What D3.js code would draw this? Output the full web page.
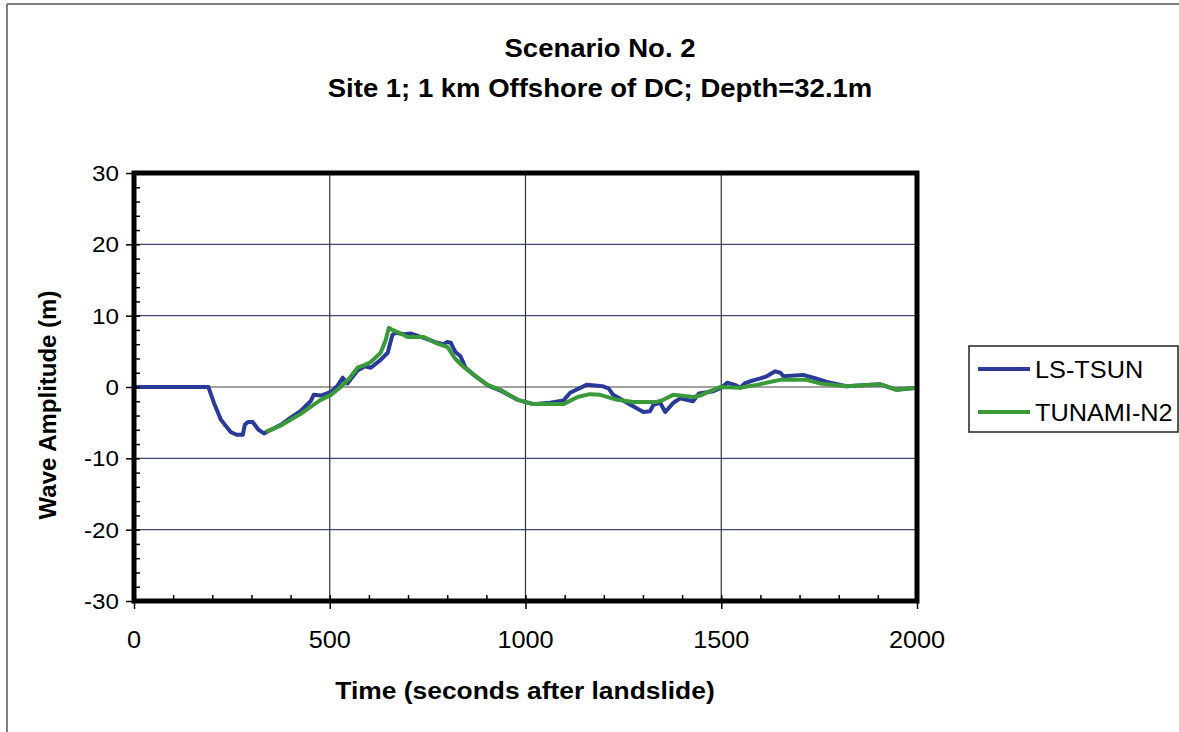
<!DOCTYPE html>
<html>
<head>
<meta charset="utf-8">
<script src="https://cdn.jsdelivr.net/npm/d3@7/dist/d3.min.js"></script>
<style>
  html, body { margin: 0; padding: 0; background: #fff; }
  svg { display: block; font-family: "Liberation Sans", Arial, sans-serif; }
</style>
</head>
<body>
<svg id="chart" width="1179" height="732"></svg>
<script>
// Wave amplitude time series (time in seconds, amplitude in metres)
const lsTsun = [
  [0, 0], [190, 0], [204, -2.2], [222, -4.6], [247, -6.3], [262, -6.7], [278, -6.7],
  [283, -5.3], [291, -4.9], [303, -4.9], [318, -6.0], [332, -6.5], [350, -6.0],
  [375, -5.3], [400, -4.3], [425, -3.4], [451, -2.0], [459, -1.1], [477, -1.2],
  [503, -0.7], [520, 0.2], [533, 1.3], [545, 0.5], [571, 2.3], [590, 2.9], [605, 2.7],
  [630, 3.8], [648, 4.8], [660, 7.3], [668, 7.6], [690, 7.4], [706, 7.5], [740, 6.9],
  [770, 6.3], [790, 6.0], [800, 6.3], [809, 6.2], [821, 4.9], [834, 4.3], [847, 2.7],
  [870, 1.6], [905, 0.2], [936, -0.5], [980, -1.8], [1020, -2.4], [1063, -2.2],
  [1097, -1.9], [1114, -0.8], [1156, 0.3], [1198, 0.1], [1212, -0.2], [1224, -1.1],
  [1268, -2.5], [1301, -3.5], [1318, -3.4], [1327, -2.5], [1344, -2.2], [1357, -3.5],
  [1378, -2.2], [1395, -1.6], [1428, -2.0], [1443, -0.9], [1480, -0.6], [1500, -0.1],
  [1515, 0.6], [1535, 0.3], [1548, -0.1], [1560, 0.5], [1574, 0.8], [1600, 1.2],
  [1616, 1.5], [1638, 2.2], [1651, 2.0], [1659, 1.5], [1709, 1.7], [1735, 1.3],
  [1770, 0.7], [1820, 0.1], [1905, 0.4], [1948, -0.4], [2000, -0.1]
];

const tunamiN2 = [
  [337, -6.3], [349, -6.0], [375, -5.4], [400, -4.6], [425, -3.8], [451, -2.8],
  [477, -1.8], [503, -1.1], [528, 0.0], [550, 1.2], [571, 2.7], [590, 3.1], [605, 3.5],
  [630, 4.8], [643, 6.6], [651, 8.3], [660, 8.0], [673, 7.7], [699, 7.0], [740, 7.0],
  [770, 6.2], [801, 5.6], [820, 4.0], [842, 2.8], [868, 1.7], [903, 0.3], [936, -0.4],
  [980, -1.8], [1020, -2.4], [1097, -2.4], [1133, -1.4], [1164, -1.0], [1191, -1.1],
  [1234, -1.8], [1276, -2.1], [1336, -2.1], [1352, -1.8], [1377, -1.1], [1429, -1.4],
  [1446, -1.2], [1463, -0.8], [1497, 0.0], [1548, -0.1], [1591, 0.3], [1650, 1.0],
  [1718, 1.0], [1752, 0.5], [1820, 0.1], [1905, 0.4], [1948, -0.4], [2000, -0.1]
];

const seriesNames = ["LS-TSUN", "TUNAMI-N2"];
const xTicks = [0, 500, 1000, 1500, 2000];
const yTicks = [-30, -20, -10, 0, 10, 20, 30];
const titleLines = ["Scenario No. 2", "Site 1; 1 km Offshore of DC; Depth=32.1m"];
const xTitle = "Time (seconds after landslide)";
const yTitle = "Wave Amplitude (m)";

const svg = d3.select("#chart");
const SX = 1.1; // glyphs in this layout are set slightly wide

const x = d3.scaleLinear().domain([0, 2000]).range([134, 917]);
const y = d3.scaleLinear().domain([-30, 30]).range([601, 173]);

// horizontally widened text helper
function wideText(sel, tx, ty, str, size, weight, anchor) {
  return sel.append("text")
    .attr("transform", `translate(${tx},${ty}) scale(${SX},1)`)
    .attr("text-anchor", anchor || "middle")
    .attr("font-size", size)
    .attr("font-weight", weight || "normal")
    .attr("fill", "#000")
    .text(str);
}

// page frame
svg.append("line").attr("x1", 7).attr("y1", 4).attr("x2", 1179).attr("y2", 4)
  .attr("stroke", "#555").attr("stroke-width", 1.5);
svg.append("line").attr("x1", 7).attr("y1", 4).attr("x2", 7).attr("y2", 732)
  .attr("stroke", "#555").attr("stroke-width", 1.5);

// title
wideText(svg, 600, 57, titleLines[0], 25, "bold");
wideText(svg, 600, 97, titleLines[1], 25, "bold");

// gridlines
const grid = svg.append("g");
grid.selectAll("line.h").data(yTicks.filter(v => v > -30 && v < 30)).join("line")
  .attr("x1", x(0)).attr("x2", x(2000))
  .attr("y1", d => y(d)).attr("y2", d => y(d))
  .attr("stroke", d => d === 0 ? "#444" : "#3e4a6e").attr("stroke-width", 1.2);
grid.selectAll("line.v").data(xTicks.filter(v => v > 0 && v < 2000)).join("line")
  .attr("y1", y(30)).attr("y2", y(-30))
  .attr("x1", d => x(d)).attr("x2", d => x(d))
  .attr("stroke", "#333").attr("stroke-width", 1.2);

// series lines
const line = d3.line().x(d => x(d[0])).y(d => y(d[1])).curve(d3.curveLinear);
svg.append("path").datum(lsTsun).attr("d", line)
  .attr("fill", "none").attr("stroke", "#2a3a98").attr("stroke-width", 4)
  .attr("stroke-linejoin", "round");
svg.append("path").datum(tunamiN2).attr("d", line)
  .attr("fill", "none").attr("stroke", "#3a9a3a").attr("stroke-width", 4)
  .attr("stroke-linejoin", "round");

// plot frame
svg.append("rect")
  .attr("x", x(0)).attr("y", y(30))
  .attr("width", x(2000) - x(0)).attr("height", y(-30) - y(30))
  .attr("fill", "none").attr("stroke", "#000").attr("stroke-width", 5);

// axes: major ticks outside, minor ticks inside
const yMajor = d3.axisLeft(y).tickValues(yTicks).tickSize(8).tickFormat("");
const yMinor = d3.axisRight(y).tickValues(d3.range(-30, 31, 2)).tickSize(6).tickFormat("");
const xMajor = d3.axisBottom(x).tickValues(xTicks).tickSize(8).tickFormat("");
const xMinor = d3.axisTop(x).tickValues(d3.range(0, 2001, 100)).tickSize(6).tickFormat("");

function styleAxis(g) {
  g.select(".domain").remove();
  g.selectAll(".tick line").attr("stroke", "#000").attr("stroke-width", 1.5);
}
svg.append("g").attr("transform", `translate(${x(0)},0)`).call(yMajor).call(styleAxis);
svg.append("g").attr("transform", `translate(${x(0)},0)`).call(yMinor).call(styleAxis);
svg.append("g").attr("transform", `translate(0,${y(-30)})`).call(xMajor).call(styleAxis);
svg.append("g").attr("transform", `translate(0,${y(-30)})`).call(xMinor).call(styleAxis);

// tick labels
yTicks.forEach(v => wideText(svg, 119, y(v) + 8, String(v), 22, "normal", "end"));
xTicks.forEach(v => wideText(svg, x(v), 648, String(v), 23, "normal", "middle"));

// axis titles
wideText(svg, 525, 699, xTitle, 24, "bold");
svg.append("text")
  .attr("transform", `translate(56,${(y(30) + y(-30)) / 2 + 18}) rotate(-90)`)
  .attr("text-anchor", "middle").attr("font-size", 24).attr("font-weight", "bold")
  .text(yTitle);

// legend
const legend = svg.append("g");
legend.append("rect").attr("x", 969).attr("y", 346).attr("width", 209).attr("height", 86)
  .attr("fill", "#fff").attr("stroke", "#222").attr("stroke-width", 1.5);
const legendColors = ["#2a3a98", "#3a9a3a"];
seriesNames.forEach((name, i) => {
  const ly = 369 + i * 43;
  legend.append("line").attr("x1", 978).attr("x2", 1030).attr("y1", ly).attr("y2", ly)
    .attr("stroke", legendColors[i]).attr("stroke-width", 4);
  wideText(legend, 1035, ly + 8.5, name, 23, "normal", "start");
});
</script>
</body>
</html>
